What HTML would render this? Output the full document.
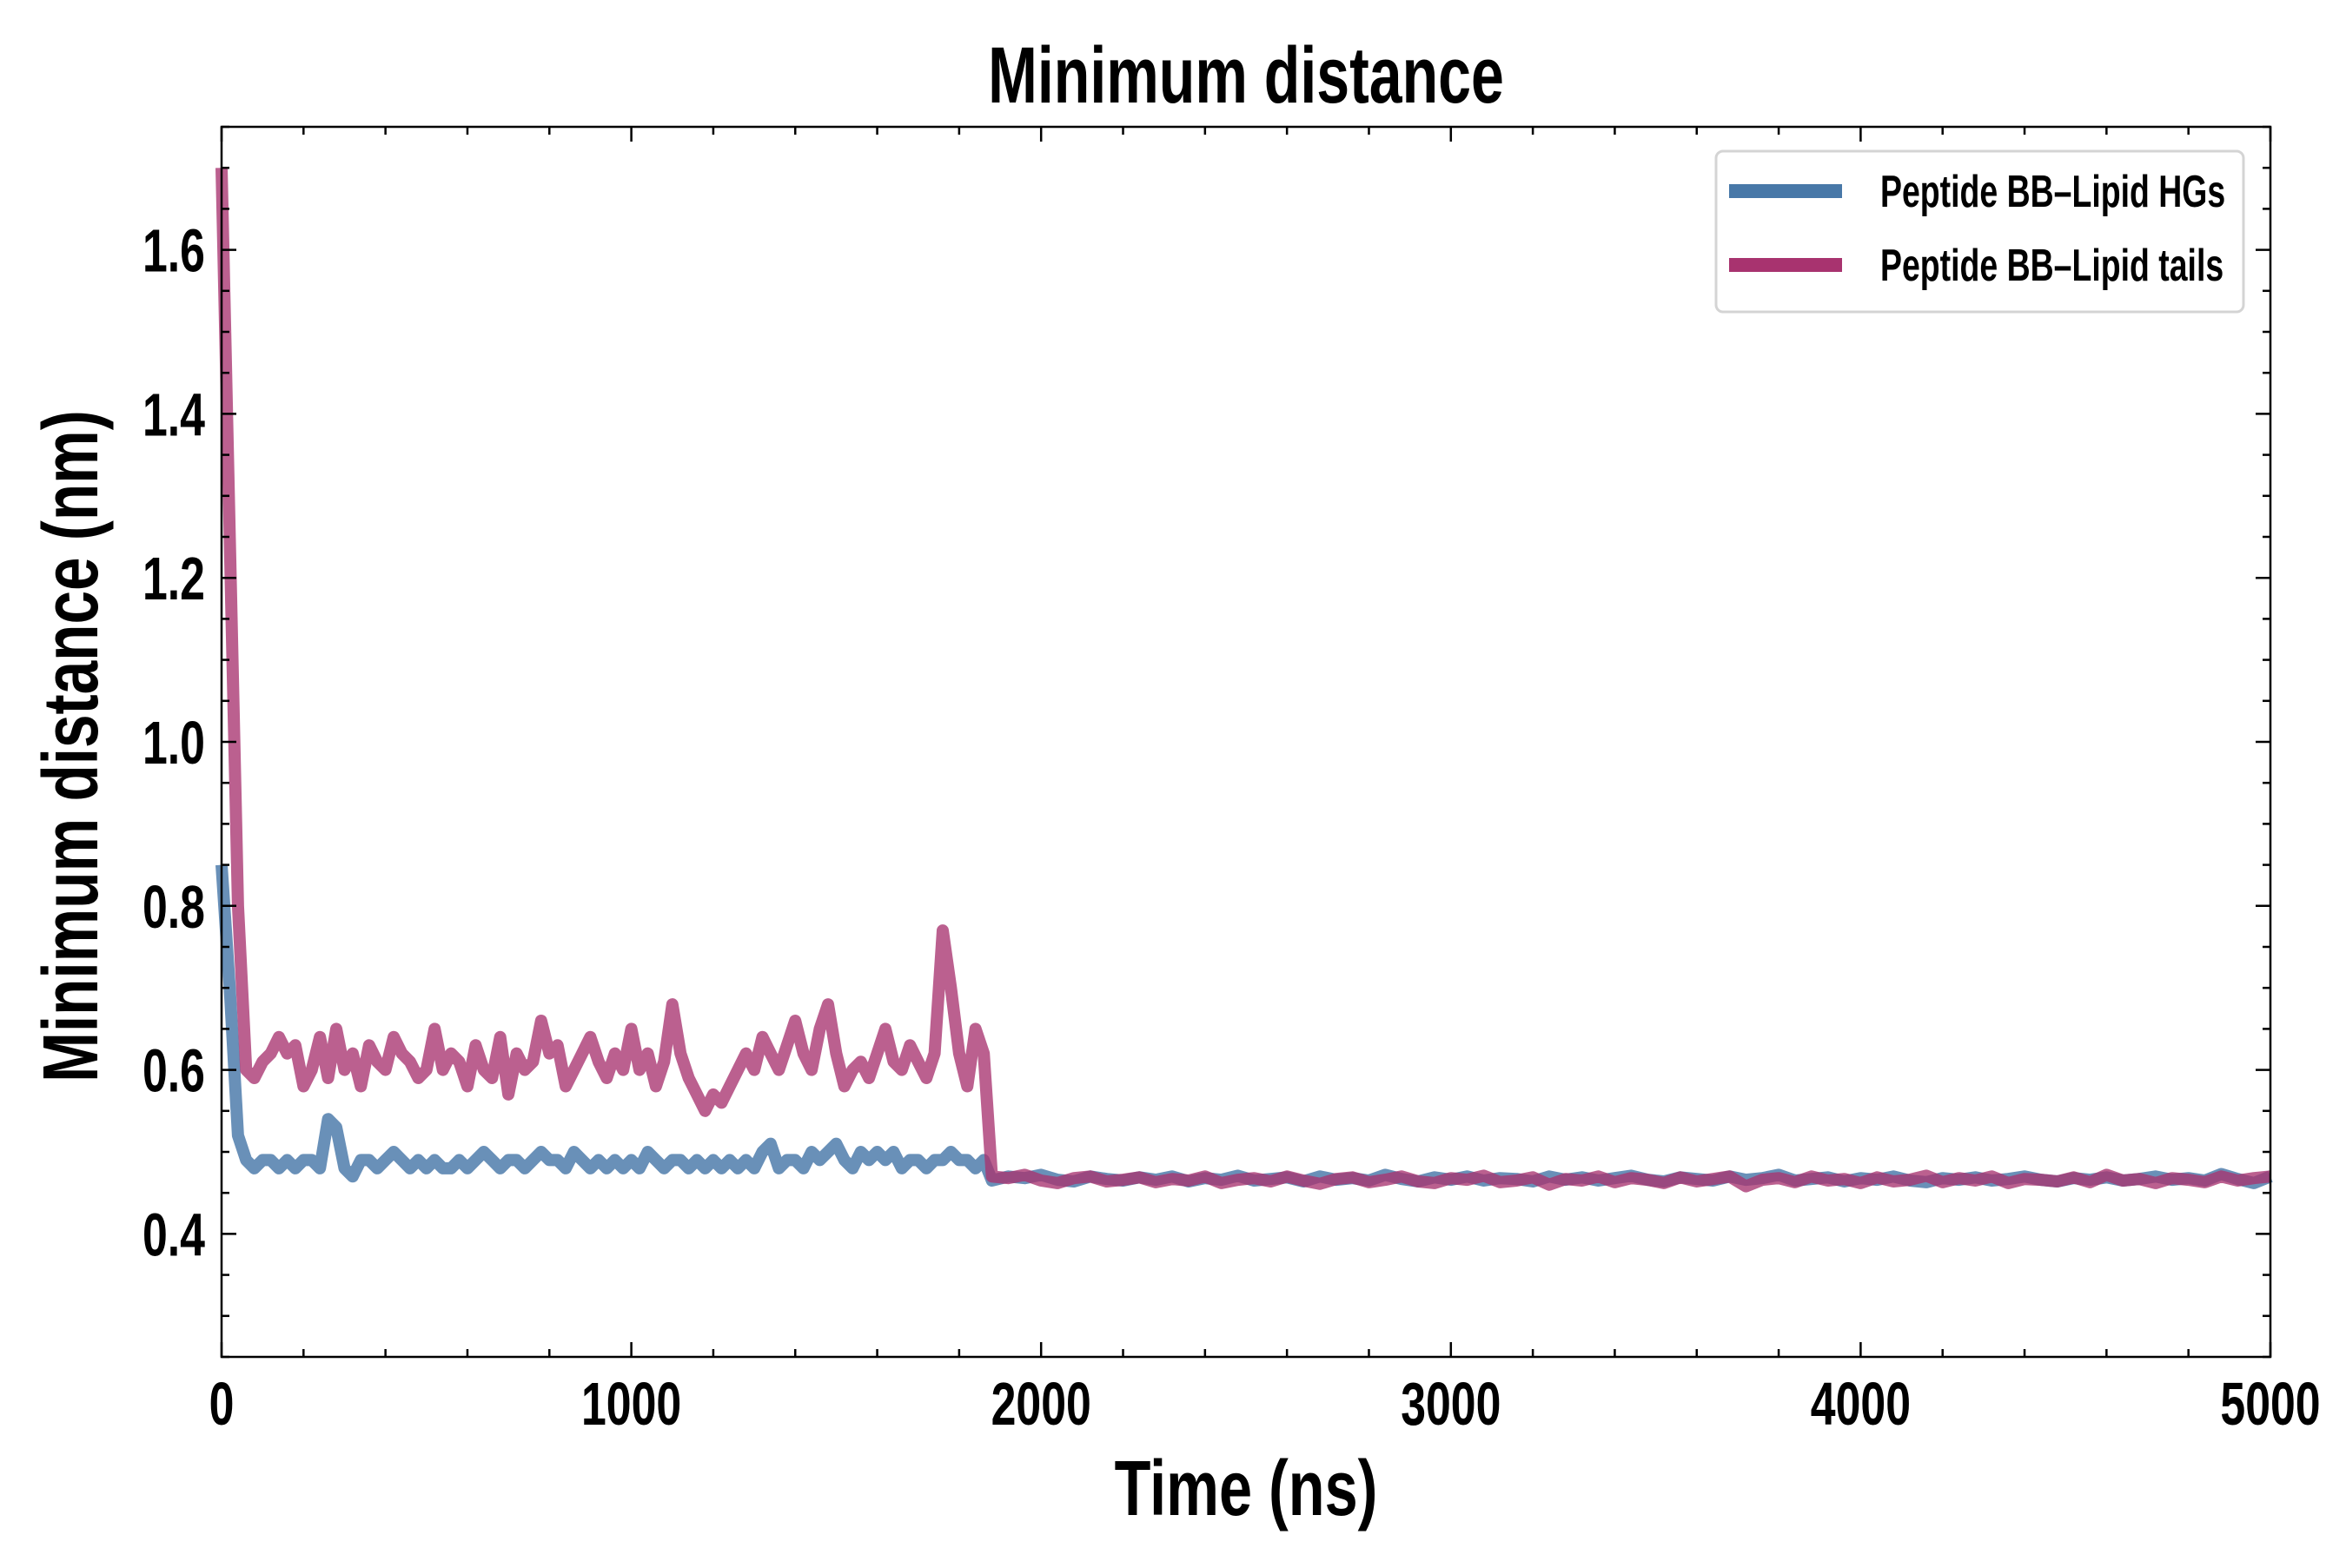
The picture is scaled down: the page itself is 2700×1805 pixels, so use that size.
<!DOCTYPE html>
<html><head><meta charset="utf-8">
<style>
html,body{margin:0;padding:0;background:#fff;}
svg text{font-family:"Liberation Sans Narrow","Liberation Sans",sans-serif;font-weight:bold;fill:#000;}
</style></head>
<body>
<svg id="chart" width="2700" height="1800" viewBox="0 0 2700 1800" xmlns="http://www.w3.org/2000/svg">
<rect width="2700" height="1800" fill="#fff"/>
<text transform="translate(1434,118) scale(0.74,1)" font-size="92" text-anchor="middle">Minimum distance</text>
<g id="series"></g>
<g id="ticks"></g>
<rect x="255" y="146" width="2358" height="1416" fill="none" stroke="#000" stroke-width="2.5"/>
<text transform="translate(1434,1744) scale(0.76,1)" font-size="90" text-anchor="middle">Time (ns)</text>
<text transform="translate(112,859) rotate(-90) scale(0.77,1)" font-size="90" text-anchor="middle">Minimum distance (nm)</text>
<g>
<rect x="1975" y="174" width="607" height="185" rx="8" fill="#fff" stroke="#d4d4d4" stroke-width="3"/>
<line x1="1990" y1="220" x2="2120" y2="220" stroke="#4878a8" stroke-width="16"/>
<text transform="translate(2164,238) scale(0.72,1)" font-size="52">Peptide BB–Lipid HGs</text>
<line x1="1990" y1="305" x2="2120" y2="305" stroke="#a8336f" stroke-width="16"/>
<text transform="translate(2164,323) scale(0.72,1)" font-size="52">Peptide BB–Lipid tails</text>
</g>
</svg>
<script>
// early segment: t = index*earlyStep ; late segment: t = lateStart + index*lateStep
const earlyStep = 20;
const lateStart = 1880;
const lateStep = 40;
const tailsEarly = [1.70,1.25,0.80,0.60,0.59,0.61,0.62,0.64,0.62,0.63,0.58,0.60,0.64,0.59,0.65,0.60,0.62,0.58,0.63,0.61,0.60,0.64,0.62,0.61,0.59,0.60,0.65,0.60,0.62,0.61,0.58,0.63,0.60,0.59,0.64,0.57,0.62,0.60,0.61,0.66,0.62,0.63,0.58,0.60,0.62,0.64,0.61,0.59,0.62,0.60,0.65,0.60,0.62,0.58,0.61,0.68,0.62,0.59,0.57,0.55,0.57,0.56,0.58,0.60,0.62,0.60,0.64,0.62,0.60,0.63,0.66,0.62,0.60,0.65,0.68,0.62,0.58,0.60,0.61,0.59,0.62,0.65,0.61,0.60,0.63,0.61,0.59,0.62,0.77,0.70,0.62,0.58,0.65,0.62];
const hgsEarly = [0.85,0.70,0.52,0.49,0.48,0.49,0.49,0.48,0.49,0.48,0.49,0.49,0.48,0.54,0.53,0.48,0.47,0.49,0.49,0.48,0.49,0.50,0.49,0.48,0.49,0.48,0.49,0.48,0.48,0.49,0.48,0.49,0.50,0.49,0.48,0.49,0.49,0.48,0.49,0.50,0.49,0.49,0.48,0.50,0.49,0.48,0.49,0.48,0.49,0.48,0.49,0.48,0.50,0.49,0.48,0.49,0.49,0.48,0.49,0.48,0.49,0.48,0.49,0.48,0.49,0.48,0.50,0.51,0.48,0.49,0.49,0.48,0.50,0.49,0.50,0.51,0.49,0.48,0.50,0.49,0.50,0.49,0.50,0.48,0.49,0.49,0.48,0.49,0.49,0.50,0.49,0.49,0.48,0.49];
const tailsLate = [0.47,0.468,0.472,0.465,0.462,0.468,0.47,0.464,0.466,0.469,0.463,0.467,0.465,0.47,0.462,0.466,0.468,0.464,0.47,0.465,0.461,0.467,0.469,0.463,0.466,0.47,0.464,0.462,0.468,0.466,0.471,0.463,0.465,0.469,0.46,0.467,0.465,0.47,0.463,0.468,0.466,0.462,0.469,0.464,0.467,0.47,0.458,0.466,0.468,0.463,0.47,0.465,0.467,0.462,0.469,0.464,0.466,0.471,0.463,0.468,0.465,0.47,0.462,0.467,0.466,0.464,0.469,0.463,0.472,0.465,0.467,0.462,0.468,0.466,0.463,0.47,0.465,0.468,0.47];
const hgsLate = [0.465,0.47,0.468,0.472,0.466,0.464,0.47,0.467,0.465,0.469,0.466,0.47,0.464,0.468,0.466,0.471,0.465,0.467,0.469,0.464,0.47,0.466,0.468,0.465,0.472,0.467,0.464,0.469,0.466,0.47,0.465,0.468,0.467,0.464,0.47,0.466,0.469,0.465,0.468,0.471,0.466,0.464,0.469,0.467,0.465,0.47,0.466,0.468,0.472,0.465,0.467,0.469,0.464,0.468,0.466,0.47,0.465,0.463,0.468,0.466,0.469,0.465,0.467,0.47,0.466,0.464,0.468,0.466,0.469,0.465,0.467,0.47,0.466,0.468,0.465,0.473,0.467,0.462,0.47];
const xTickValues = [0,1000,2000,3000,4000,5000];
const xTickLabels = ["0","1000","2000","3000","4000","5000"];
const yTickValues = [0.4,0.6,0.8,1.0,1.2,1.4,1.6];
const yTickLabels = ["0.4","0.6","0.8","1.0","1.2","1.4","1.6"];

const X0=255,X1=2613,Y0=1562,Y1=146,XMIN=0,XMAX=5000,YMIN=0.25,YMAX=1.75;
const sx=t=>X0+(t-XMIN)/(XMAX-XMIN)*(X1-X0);
const sy=v=>Y0-(v-YMIN)/(YMAX-YMIN)*(Y0-Y1);
const NS='http://www.w3.org/2000/svg';
function pts(early,late){
  const p=[];
  early.forEach((v,i)=>p.push(sx(i*earlyStep).toFixed(1)+','+sy(v).toFixed(1)));
  late.forEach((v,i)=>p.push(sx(Math.min(XMAX,lateStart+i*lateStep)).toFixed(1)+','+sy(v).toFixed(1)));
  return p.join(' ');
}
const g=document.getElementById('series');
const l1=document.createElementNS(NS,'polyline');


l1.setAttribute('points',pts(hgsEarly,hgsLate));
l1.setAttribute('fill','none');l1.setAttribute('stroke','#4878a8');l1.setAttribute('stroke-opacity','0.82');
l1.setAttribute('stroke-width','14');l1.setAttribute('stroke-linejoin','round');
g.appendChild(l1);
const l2=document.createElementNS(NS,'polyline');


l2.setAttribute('points',pts(tailsEarly,tailsLate));
l2.setAttribute('fill','none');l2.setAttribute('stroke','#a8336f');l2.setAttribute('stroke-opacity','0.78');
l2.setAttribute('stroke-width','14');l2.setAttribute('stroke-linejoin','round');
g.appendChild(l2);

const tg=document.getElementById('ticks');
function ln(x1,y1,x2,y2){const e=document.createElementNS(NS,'line');


e.setAttribute('x1',x1);e.setAttribute('y1',y1);e.setAttribute('x2',x2);e.setAttribute('y2',y2);
e.setAttribute('stroke','#000');e.setAttribute('stroke-width','2.5');tg.appendChild(e);}
for(let t=0;t<=5000;t+=200){const x=sx(t),L=(t%1000===0)?17:9;ln(x,Y0,x,Y0-L);ln(x,Y1,x,Y1+L);}
for(let k=5;k<=35;k++){const v=k*0.05,y=sy(v),L=(k%4===0)?17:9;ln(X0,y,X0+L,y);ln(X1,y,X1-L,y);}
xTickValues.forEach((t,i)=>{const e=document.createElementNS(NS,'text');


e.setAttribute('transform','translate('+sx(t)+',1640) scale(0.74,1)');e.setAttribute('font-size','70');e.setAttribute('text-anchor','middle');
e.textContent=xTickLabels[i];tg.appendChild(e);});
yTickValues.forEach((v,i)=>{const e=document.createElementNS(NS,'text');


e.setAttribute('transform','translate(236,'+(sy(v)+25)+') scale(0.74,1)');e.setAttribute('font-size','70');e.setAttribute('text-anchor','end');
e.textContent=yTickLabels[i];tg.appendChild(e);});
</script>
</body></html>
